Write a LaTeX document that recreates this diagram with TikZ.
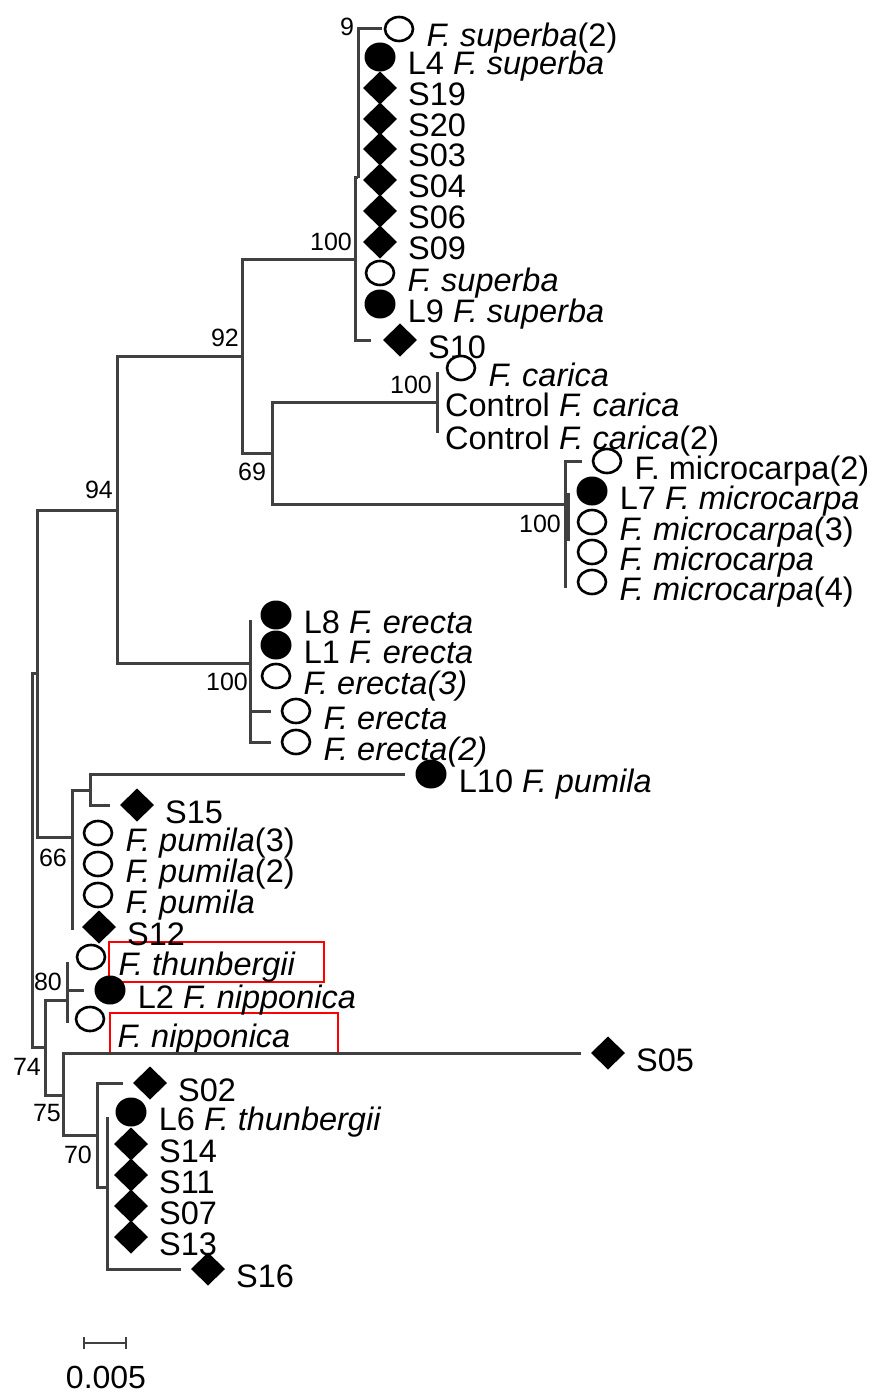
\documentclass[tikz,border=0pt]{standalone}
\usepackage{fontspec}
\setmainfont{Liberation Sans}
\usetikzlibrary{positioning, arrows.meta, shapes.geometric}
\newcommand{\Fsp}[1]{\textit{F. #1}}

\begin{document}
\begin{tikzpicture}[x=1pt, y=-1pt,
      br/.style={line width=3pt, color=black!75, line join=miter},
      leaf/.style={br, shorten >=10pt},
      ocirc/.style={
          ellipse, draw, line width=2.6pt, fill=white,
          minimum width=28pt, minimum height=24pt, inner sep=0pt
        },
      fcirc/.style={
          ellipse, fill=black, minimum width=31pt,
          minimum height=29pt, inner sep=0pt
        },
      fdia/.style={
          diamond, fill=black, minimum width=34pt,
          minimum height=33pt, inner sep=0pt, outer sep=0pt
        },
      lab/.style={font=\fontsize{32.5}{36}\selectfont, inner sep=0pt,
          anchor=base west, yshift=-18pt},
      bs/.style={font=\fontsize{25}{28}\selectfont, inner sep=0pt},
      redbox/.style={draw=red, line width=2.2pt}
    ]
    \useasboundingbox (0,0) rectangle (878,1396);

    % ── Red boxes (behind the tree) ──
    \draw[redbox] (109,942) rectangle (324,982);
    \draw[redbox] (110,1013) rectangle (338,1054);

    % ── Internal nodes ──
    \coordinate (r0)    at (32,860);
    \coordinate (nA)    at (37,673);
    \coordinate (n94)   at (117,510);
    \coordinate (n92)   at (242,356);
    \coordinate (n100s) at (355,260);
    \coordinate (n9)    at (358,178);
    \coordinate (n69)   at (272,453);
    \coordinate (n100c) at (437,402);
    \coordinate (n100m) at (565,504);
    \coordinate (n100e) at (250,663);
    \coordinate (n66)   at (72,837);
    \coordinate (nP)    at (90,790);
    \coordinate (n74)   at (45,1047);
    \coordinate (n80)   at (67,1000);
    \coordinate (n75)   at (63,1095);
    \coordinate (n70)   at (97,1135);
    \coordinate (nI)    at (107,1187);

    % ── Superba clade ──
    \node[ocirc] (sup2) at (399,29)  {};
    \node[fcirc] (l4)   at (380,57)  {};
    \node[fdia]  (s19)  at (380,88)  {};
    \node[fdia]  (s20)  at (380,119) {};
    \node[fdia]  (s03)  at (380,149) {};
    \node[fdia]  (s04)  at (380,180) {};
    \node[fdia]  (s06)  at (380,211) {};
    \node[fdia]  (s09)  at (380,242) {};
    \node[ocirc] (supb) at (380,273) {};
    \node[fcirc] (l9)   at (380,304) {};
    \node[fdia]  (s10)  at (400,340) {};
    \node[right=12pt of sup2, lab] (sup2l) {\Fsp{superba}(2)};
    \node[right=12pt of l4, lab]   (l4l)   {L4 \Fsp{superba}};
    \node[right=11pt of s19, lab]  (s19l)  {S19};
    \node[right=11pt of s20, lab]  (s20l)  {S20};
    \node[right=11pt of s03, lab]  (s03l)  {S03};
    \node[right=11pt of s04, lab]  (s04l)  {S04};
    \node[right=11pt of s06, lab]  (s06l)  {S06};
    \node[right=11pt of s09, lab]  (s09l)  {S09};
    \node[right=12pt of supb, lab] (supbl) {\Fsp{superba}};
    \node[right=12pt of l9, lab]   (l9l)   {L9 \Fsp{superba}};
    \node[right=11pt of s10, lab]  (s10l)  {S10};

    % ── Carica and microcarpa ──
    \node[ocirc] (car)  at (461,368) {};
    \node[right=12pt of car, lab] (carl) {\Fsp{carica}};
    \node[lab, yshift=18pt] (ctl1) at (445,416) {Control \Fsp{carica}};
    \node[lab, yshift=18pt] (ctl2) at (445,449) {Control \Fsp{carica}(2)};
    \node[ocirc] (mic2) at (607,461) {};
    \node[fcirc] (l7)   at (592,491) {};
    \node[ocirc] (mic3) at (592,522) {};
    \node[ocirc] (mic1) at (592,552) {};
    \node[ocirc] (mic4) at (592,582) {};
    \node[right=12pt of mic2, lab] (mic2l) {F. microcarpa(2)};
    \node[right=12pt of l7, lab]   (l7l)   {L7 \Fsp{microcarpa}};
    \node[right=12pt of mic3, lab] (mic3l) {\Fsp{microcarpa}(3)};
    \node[right=12pt of mic1, lab] (mic1l) {\Fsp{microcarpa}};
    \node[right=12pt of mic4, lab] (mic4l) {\Fsp{microcarpa}(4)};

    % ── Erecta clade ──
    \node[fcirc] (l8)   at (276,615) {};
    \node[fcirc] (l1)   at (276,645) {};
    \node[ocirc] (ere3) at (276,676) {};
    \node[ocirc] (ere1) at (296,711) {};
    \node[ocirc] (ere2) at (296,742) {};
    \node[right=12pt of l8, lab]   (l8l)   {L8 \Fsp{erecta}};
    \node[right=12pt of l1, lab]   (l1l)   {L1 \Fsp{erecta}};
    \node[right=12pt of ere3, lab] (ere3l) {\textit{F. erecta(3)}};
    \node[right=12pt of ere1, lab] (ere1l) {\Fsp{erecta}};
    \node[right=12pt of ere2, lab] (ere2l) {\textit{F. erecta(2)}};

    % ── Pumila clade ──
    \node[fcirc] (l10)  at (431,774) {};
    \node[fdia]  (s15)  at (137,805) {};
    \node[ocirc] (pum3) at (98,833)  {};
    \node[ocirc] (pum2) at (98,864)  {};
    \node[ocirc] (pum1) at (98,895)  {};
    \node[fdia]  (s12)  at (99,927)  {};
    \node[right=12pt of l10, lab]  (l10l)  {L10 \Fsp{pumila}};
    \node[right=11pt of s15, lab]  (s15l)  {S15};
    \node[right=12pt of pum3, lab] (pum3l) {\Fsp{pumila}(3)};
    \node[right=12pt of pum2, lab] (pum2l) {\Fsp{pumila}(2)};
    \node[right=12pt of pum1, lab] (pum1l) {\Fsp{pumila}};
    \node[right=11pt of s12, lab]  (s12l)  {S12};

    % ── Thunbergii / nipponica ──
    \node[ocirc] (thu)  at (91,957)  {};
    \node[fcirc] (l2)   at (110,990) {};
    \node[ocirc] (nip)  at (90,1019) {};
    \node[right=12pt of thu, lab]  (thul)  {\Fsp{thunbergii}};
    \node[right=12pt of l2, lab]   (l2l)   {L2 \Fsp{nipponica}};
    \node[right=12pt of nip, lab, yshift=-10pt] (nipl) {\Fsp{nipponica}};
    \node[fdia]  (s05)  at (608,1053) {};
    \node[right=11pt of s05, lab]  (s05l)  {S05};
    \node[fdia]  (s02)  at (150,1083) {};
    \node[fcirc] (l6)   at (131,1112) {};
    \node[fdia]  (s14)  at (131,1144) {};
    \node[fdia]  (s11)  at (131,1175) {};
    \node[fdia]  (s07)  at (131,1206) {};
    \node[fdia]  (s13)  at (131,1237) {};
    \node[fdia]  (s16)  at (208,1269) {};
    \node[right=11pt of s02, lab]  (s02l)  {S02};
    \node[right=12pt of l6, lab]   (l6l)   {L6 \Fsp{thunbergii}};
    \node[right=11pt of s14, lab]  (s14l)  {S14};
    \node[right=11pt of s11, lab]  (s11l)  {S11};
    \node[right=11pt of s07, lab]  (s07l)  {S07};
    \node[right=11pt of s13, lab]  (s13l)  {S13};
    \node[right=11pt of s16, lab]  (s16l)  {S16};

    % ── Branches ──
    \draw[br] (r0) |- (nA);
    \draw[br] (r0) |- (n74);
    \draw[br] (nA) |- (n94);
    \draw[br] (nA) |- (n66);
    \draw[br] (n94) |- (n92);
    \draw[br] (n94) |- (n100e);
    \draw[br] (n92) |- (n100s);
    \draw[br] (n92) |- (n69);
    \draw[br] (n100s) |- (n9);
    \draw[leaf, shorten >=2pt] (n9) |- (sup2);
    \draw[leaf, shorten >=12pt] (n100s) |- (s10);
    \draw[br] (n69) |- (n100c);
    \draw[br] (n69) |- (n100m);
    \draw[br] (n100c) ++(0,-30) -- ++(0,61);
    \draw[leaf] (n100m) |- (mic2);
    \draw[br] (n100m) -- ++(0,84);
    \draw[br] (n100m) ++(3,-11) -- ++(0,48);
    \draw[br] (n100e) -- ++(0,-43);
    \draw[leaf] (n100e) |- (ere1);
    \draw[leaf] (n100e) |- (ere2);
    \draw[br] (n66) |- (nP);
    \draw[br] (n66) -- ++(0,93);
    \draw[leaf] (nP) |- (l10);
    \draw[leaf] (nP) |- (s15);
    \draw[br] (n74) |- (n80);
    \draw[br] (n74) |- (n75);
    \draw[br] (n80) ++(0,-38) -- ++(0,61);
    \draw[leaf] (n80) |- (l2);
    \draw[leaf] (n75) |- (s05);
    \draw[br] (n75) |- (n70);
    \draw[leaf] (n70) |- (s02);
    \draw[br] (n70) |- (nI);
    \draw[br] (nI) -- ++(0,-70);
    \draw[leaf] (nI) |- (s16);

    % ── Bootstrap values ──
    \node[bs] (b9)    at (347,27)   {9};
    \node[bs] (b100s) at (331,242)  {100};
    \node[bs] (b92)   at (225,338)  {92};
    \node[bs] (b94)   at (99,490)   {94};
    \node[bs] (b69)   at (252,472)  {69};
    \node[bs] (b100c) at (411,385)  {100};
    \node[bs] (b100m) at (540,524)  {100};
    \node[bs] (b100e) at (227,682)  {100};
    \node[bs] (b66)   at (53,858)   {66};
    \node[bs] (b80)   at (48,982)   {80};
    \node[bs] (b74)   at (27,1067)  {74};
    \node[bs] (b75)   at (47,1113)  {75};
    \node[bs] (b70)   at (78,1155)  {70};

    % ── Scale bar ──
    \coordinate (sb1) at (83,1343);
    \coordinate (sb2) at (127,1343);
    \draw[br, line width=2.4pt, {Bar[width=12pt]}-{Bar[width=12pt]}] (sb1) -- (sb2);
    \node[font=\fontsize{32}{36}\selectfont, inner sep=0pt] (sbl) at (106,1377) {0.005};

  \end{tikzpicture}
\end{document}
